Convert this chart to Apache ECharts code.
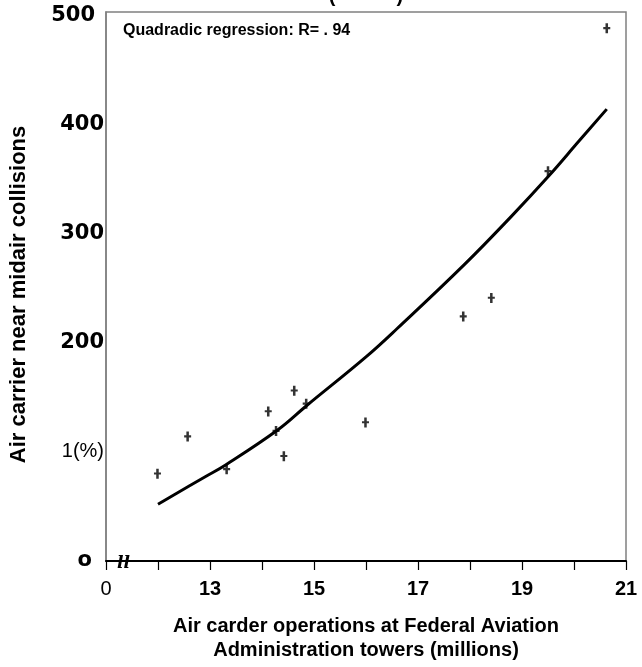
<!DOCTYPE html>
<html><head><meta charset="utf-8">
<script src="https://cdn.jsdelivr.net/npm/echarts@6/dist/echarts.min.js"></script>
<style>html,body{margin:0;padding:0;background:#fff}#c{width:642px;height:667px}</style>
</head><body><div id="c"></div>
<script>
// Observed data (operations in millions, near midair collisions)
const pointX = [11.99, 12.57, 13.32, 14.12, 14.27, 14.42, 14.62, 14.85, 15.99, 17.87, 18.41, 19.50, 20.63];
const pointY = [80, 114, 84, 137, 119, 96, 156, 144, 127, 224, 241, 357, 488];
// Quadratic regression curve
const fitX = [12.0, 12.9, 13.3, 14.3, 14.85, 16.0, 16.6, 17.9, 18.8, 19.5, 20.1, 20.63];
const fitY = [52, 77, 88, 120, 142, 187, 213, 272, 316, 352, 385, 414];
// Tick labels
const xTickLabels = {11: '{r|0}', 13: '13', 15: '15', 17: '17', 19: '19', 21: '21'};
const yTickLabels = {0: '{o|o}', 100: '{r|1(%)}', 200: '200', 300: '300', 400: '400', 500: '{s|500}'};

const FONT = '"Liberation Sans", Arial, sans-serif';
const WIDE = '"DejaVu Sans", sans-serif';
const chart = echarts.init(document.getElementById('c'), null, {renderer: 'canvas'});
chart.setOption({
  animation: false,
  backgroundColor: '#fff',
  grid: {left: 105, right: 16, top: 12, bottom: 101.5, show: true, borderColor: '#808080', borderWidth: 1.5},
  title: {
    text: 'Quadradic regression: R= . 94', left: 118, top: 18,
    textStyle: {fontFamily: FONT, fontSize: 16, fontWeight: 'bold', color: '#000'}
  },
  xAxis: {
    type: 'value', min: 11, max: 21, interval: 1,
    name: 'Air carder operations at Federal Aviation\nAdministration towers (millions)',
    nameLocation: 'middle', nameGap: 53,
    nameTextStyle: {fontFamily: FONT, fontSize: 20, fontWeight: 'bold', color: '#000', lineHeight: 24},
    axisLine: {show: true, onZero: false, lineStyle: {color: '#000', width: 2}},
    axisTick: {show: true, inside: false, length: 9, lineStyle: {color: '#000', width: 1.2}},
    splitLine: {show: false},
    axisLabel: {
      margin: 18, color: '#000', fontFamily: FONT, fontSize: 20, fontWeight: 'bold',
      formatter: v => xTickLabels[v] || '',
      rich: {r: {fontFamily: FONT, fontSize: 20, fontWeight: 'normal', color: '#000'}}
    }
  },
  yAxis: {
    type: 'value', min: 0, max: 503, interval: 100,
    name: 'Air carrier near midair collisions',
    nameLocation: 'middle', nameRotate: 90, nameGap: 76,
    nameTextStyle: {fontFamily: FONT, fontSize: 22, fontWeight: 'bold', color: '#000', padding: [0, 16, 0, 0]},
    axisLine: {show: true, lineStyle: {color: '#808080', width: 1.5}},
    axisTick: {show: false},
    splitLine: {show: false},
    axisLabel: {
      margin: 2, color: '#000', fontFamily: WIDE, fontSize: 21, fontWeight: 'bold',
      formatter: v => yTickLabels[v] || '',
      rich: {
        r: {fontFamily: FONT, fontSize: 20, fontWeight: 'normal', color: '#000'},
        o: {fontFamily: WIDE, fontSize: 21, fontWeight: 'bold', color: '#000', padding: [0, 12, 0, 0]},
        s: {fontFamily: WIDE, fontSize: 21, fontWeight: 'bold', color: '#000', padding: [0, 9, 0, 0]}
      }
    }
  },
  graphic: [
    {type: 'text', left: 117, top: 555, style: {text: 'll', font: 'italic bold 17px "DejaVu Serif", serif', fill: '#000'}},
    {type: 'text', x: 366, y: 6, style: {text: '(           )', font: 'bold 20px "Liberation Sans", Arial', fill: '#000', align: 'center', verticalAlign: 'bottom'}}
  ],
  series: [
    {
      type: 'line', smooth: 0.4, showSymbol: false, silent: true,
      data: fitX.map((x, i) => [x, fitY[i]]),
      lineStyle: {color: '#000', width: 3}
    },
    {
      type: 'scatter',
      data: pointX.map((x, i) => [x, pointY[i]]),
      symbol: 'path://M1.6,0H3.4V3H5V4.7H3.4V8H1.6V4.7H0V3H1.6Z',
      symbolSize: [7, 10],
      itemStyle: {color: '#000'}
    }
  ]
});
</script>
</body></html>
